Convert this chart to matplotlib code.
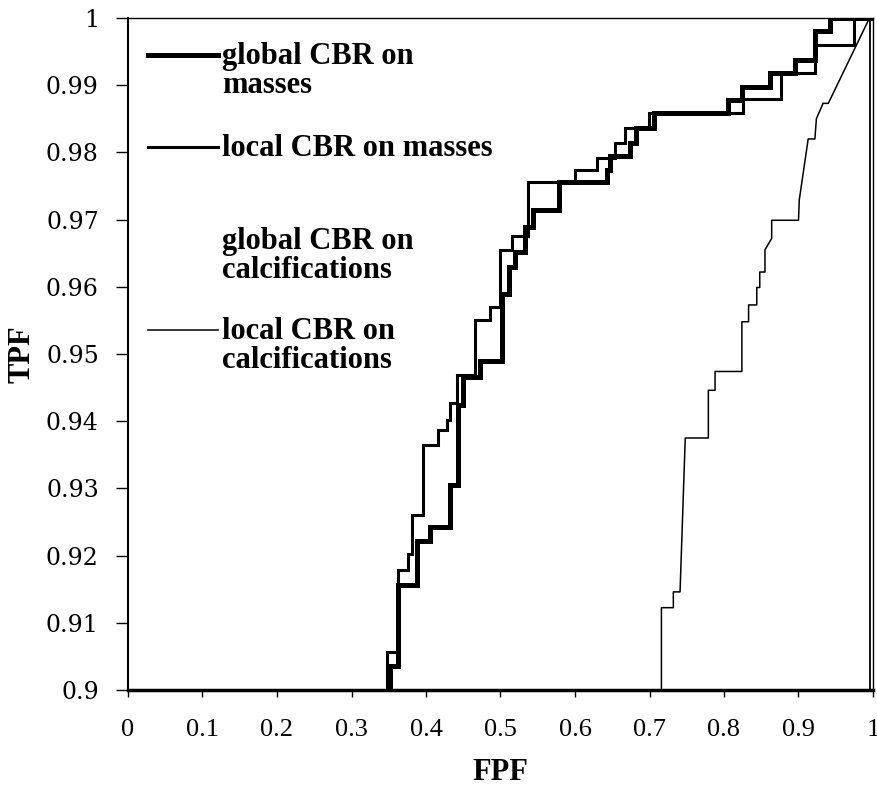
import numpy as np
import matplotlib.pyplot as plt
from matplotlib.lines import Line2D

# ROC curves (FPF, TPF), step points
glob_mass_fpf = [0.352, 0.352, 0.3628, 0.3628, 0.3875, 0.3875, 0.4054, 0.4054, 0.4322, 0.4322,
                 0.4434, 0.4434, 0.450, 0.450, 0.4725, 0.4725, 0.5016, 0.5016, 0.5118, 0.5118,
                 0.5195, 0.5195, 0.533, 0.533, 0.544, 0.544, 0.578, 0.578, 0.6425, 0.6425,
                 0.647, 0.647, 0.674, 0.674, 0.6825, 0.6825, 0.706, 0.706, 0.806, 0.806,
                 0.8236, 0.8236, 0.862, 0.862, 0.895, 0.895, 0.922, 0.922, 0.942, 0.942, 1.0]
glob_mass_tpf = [0.900, 0.9035, 0.9035, 0.9156, 0.9156, 0.9221, 0.9221, 0.9243, 0.9243, 0.9305,
                 0.9305, 0.9424, 0.9424, 0.9466, 0.9466, 0.9489, 0.9489, 0.9590, 0.9590, 0.9630,
                 0.9630, 0.9652, 0.9652, 0.9689, 0.9689, 0.9714, 0.9714, 0.9756, 0.9756, 0.9774,
                 0.9774, 0.9794, 0.9794, 0.9814, 0.9814, 0.9836, 0.9836, 0.9858, 0.9858, 0.9878,
                 0.9878, 0.9898, 0.9898, 0.9918, 0.9918, 0.99375, 0.99375, 0.998, 0.998, 1.0, 1.0]

loc_mass_fpf = [0.347, 0.347, 0.3628, 0.3628, 0.3763, 0.3763, 0.3808, 0.3808, 0.3964, 0.3964,
                0.4166, 0.4166, 0.4278, 0.4278, 0.4322, 0.4322, 0.441, 0.441, 0.4658, 0.4658,
                0.4859, 0.4859, 0.4993, 0.4993, 0.515, 0.515, 0.537, 0.537, 0.600, 0.600,
                0.629, 0.629, 0.654, 0.654, 0.667, 0.667, 0.700, 0.700, 0.826, 0.826,
                0.877, 0.877, 0.922, 0.922, 0.974, 0.974, 1.0]
loc_mass_tpf = [0.900, 0.9057, 0.9057, 0.9179, 0.9179, 0.9203, 0.9203, 0.9260, 0.9260, 0.9365,
                0.9365, 0.9387, 0.9387, 0.9402, 0.9402, 0.9427, 0.9427, 0.9469, 0.9469, 0.9551,
                0.9551, 0.9570, 0.9570, 0.9655, 0.9655, 0.9675, 0.9675, 0.9756, 0.9756, 0.9774,
                0.9774, 0.9791, 0.9791, 0.9814, 0.9814, 0.9836, 0.9836, 0.9858, 0.9858, 0.9880,
                0.9880, 0.9918, 0.9918, 0.996, 0.996, 1.0, 1.0]

glob_calc_fpf = [0.0, 0.996, 0.996, 1.0]
glob_calc_tpf = [0.900, 0.900, 1.0, 1.0]

loc_calc_fpf = [0.716, 0.716, 0.732, 0.732, 0.741, 0.748, 0.779, 0.779, 0.788, 0.788,
                0.824, 0.824, 0.833, 0.833, 0.844, 0.844, 0.848, 0.848, 0.855, 0.855,
                0.864, 0.864, 0.900, 0.901, 0.913, 0.922, 0.924, 0.933, 0.940, 0.994, 1.0]
loc_calc_tpf = [0.900, 0.91225, 0.91225, 0.9146, 0.9146, 0.9375, 0.9375, 0.9446, 0.9446, 0.9474,
                0.9474, 0.9548, 0.9548, 0.9573, 0.9573, 0.9599, 0.9599, 0.9622, 0.9622, 0.9655,
                0.9672, 0.9699, 0.9699, 0.9729, 0.9820, 0.9820, 0.9850, 0.9873, 0.9873, 0.9997, 1.0]

labels = ['global CBR on\nmasses', 'local CBR on masses',
          'global CBR on\ncalcifications', 'local CBR on\ncalcifications']
xticks = np.arange(0, 1.01, 0.1)
yticks = np.arange(0.9, 1.001, 0.01)

plt.rcParams['font.family'] = 'Liberation Serif'

fig = plt.figure(figsize=(8.78, 7.92), dpi=100)
ax = fig.add_axes([128/878, 102/792, 745/878, 672/792])

ax.plot(glob_calc_fpf, glob_calc_tpf, color='black', lw=1.3, solid_joinstyle='miter')
ax.plot(loc_calc_fpf, loc_calc_tpf, color='black', lw=1.1)
ax.plot(loc_mass_fpf, loc_mass_tpf, color='black', lw=2.2, solid_joinstyle='miter')
ax.plot(glob_mass_fpf, glob_mass_tpf, color='black', lw=3.6, solid_joinstyle='miter')

ax.set_xlim(0, 1)
ax.set_ylim(0.9, 1.0)
ax.set_xticks(xticks)
ax.set_xticklabels(['0', '0.1', '0.2', '0.3', '0.4', '0.5', '0.6', '0.7', '0.8', '0.9', '1'],
                   fontsize=19)
ax.set_yticks(yticks)
ax.set_yticklabels(['0.9', '0.91', '0.92', '0.93', '0.94', '0.95', '0.96', '0.97', '0.98',
                    '0.99', '1'], fontsize=17, family='DejaVu Serif')
ax.tick_params(axis='x', direction='out', length=5, width=1, pad=16)
ax.tick_params(axis='y', direction='out', length=9, width=1, pad=12)

ax.spines['bottom'].set_linewidth(2.5)
ax.spines['left'].set_linewidth(1.5)
ax.spines['top'].set_linewidth(1.0)
ax.spines['right'].set_linewidth(1.0)

ax.set_xlabel('FPF', fontsize=22, fontweight='bold', labelpad=12)
ax.set_ylabel('TPF', fontsize=22, fontweight='bold', labelpad=7)

# hand-placed legend, line sample beside the first line of each label
leg_y = [0.945, 0.808, 0.670, 0.536]
leg_w = [3.6, 2.2, 0.0, 1.1]
for yy, lw, lab in zip(leg_y, leg_w, labels):
    if lw > 0:
        ax.add_line(Line2D([0.027, 0.121], [yy, yy], transform=ax.transAxes,
                           color='black', lw=lw))
    ax.text(0.126, yy + 0.019, lab, transform=ax.transAxes, ha='left', va='top',
            fontsize=22, fontweight='bold', linespacing=1.0)

fig.savefig('out.png', dpi=100)
